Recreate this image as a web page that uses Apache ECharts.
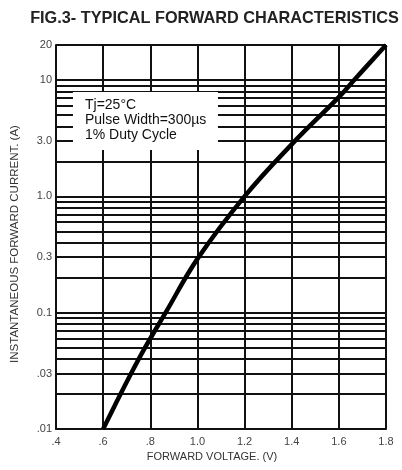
<!DOCTYPE html>
<html>
<head>
<meta charset="utf-8">
<script src="https://cdn.jsdelivr.net/npm/echarts@6/dist/echarts.min.js"></script>
<style>html,body{margin:0;padding:0;background:#fff}#c{width:402px;height:470px}</style>
</head>
<body>
<div id="c"></div>
<script>
// Curve: forward voltage (V) vs instantaneous forward current (A)
const voltage = [0.60, 0.65, 0.707, 0.77, 0.865, 1.0, 1.2, 1.40, 1.605, 1.665, 1.8];
const current = [0.01, 0.016, 0.027, 0.047, 0.1, 0.29, 1.0, 2.8, 7.3, 10, 20];

// Horizontal grid lines (log paper)
const gridValues = [0.01,0.02,0.03,0.04,0.05,0.06,0.07,0.08,0.09,
                    0.1,0.2,0.3,0.4,0.5,0.6,0.7,0.8,0.9,
                    1,2,3,4,5,6,7,8,9,10,20];
const yTickValues = [0.01, 0.03, 0.1, 0.3, 1, 3, 10, 20];
const yTickLabels = ['.01', '.03', '0.1', '0.3', '1.0', '3.0', '10', '20'];
const xTickValues = [0.4, 0.6, 0.8, 1.0, 1.2, 1.4, 1.6, 1.8];
const xTickLabels = ['.4', '.6', '.8', '1.0', '1.2', '1.4', '1.6', '1.8'];

// Note box extent (data space) and its text
const noteX = [0.472, 1.087];
const noteY = [2.5, 7.9];
const noteLines = ['Tj=25°C', 'Pulse Width=300µs', '1% Duty Cycle'];

const FONT = '"Liberation Sans", Arial, sans-serif';
const chart = echarts.init(document.getElementById('c'));

const curveData = voltage.map((v, i) => [v, current[i]]);
const markLineData = gridValues.map(v => {
  const k = yTickValues.indexOf(v);
  return {
    yAxis: v,
    label: k >= 0 ? { show: true, formatter: yTickLabels[k] } : { show: false }
  };
});

chart.setOption({
  animation: false,
  title: {
    text: 'FIG.3- TYPICAL FORWARD CHARACTERISTICS',
    left: 209.5, top: 6, textAlign: 'center',
    textStyle: { fontFamily: FONT, fontSize: 16.3, fontWeight: 'bold', color: '#222' }
  },
  grid: { left: 56, right: 16, top: 45, bottom: 41 },
  xAxis: {
    type: 'value', min: 0.4, max: 1.8, interval: 0.2,
    name: 'FORWARD VOLTAGE. (V)', nameLocation: 'middle', nameGap: 22,
    nameTextStyle: { fontFamily: FONT, fontSize: 11, color: '#333', padding: [0, 18, 0, 0] },
    axisLine: { show: true, lineStyle: { color: '#111', width: 2 } },
    axisTick: { show: false },
    axisLabel: {
      fontFamily: FONT, fontSize: 11, color: '#444', margin: 7,
      formatter: v => {
        const k = xTickValues.findIndex(t => Math.abs(t - v) < 1e-6);
        return k >= 0 ? xTickLabels[k] : '';
      }
    },
    splitLine: { show: true, lineStyle: { color: '#111', width: 2 } }
  },
  yAxis: {
    type: 'log', logBase: 10, min: 0.01, max: 20,
    name: 'INSTANTANEOUS FORWARD CURRENT. (A)', nameLocation: 'middle', nameGap: 35,
    nameTextStyle: { fontFamily: FONT, fontSize: 11.5, color: '#333', padding: [0, 14, 0, 0] },
    axisLine: { show: true, lineStyle: { color: '#111', width: 2 } },
    axisTick: { show: false },
    axisLabel: { show: false },
    splitLine: { show: false }
  },
  series: [
    {
      type: 'line', name: 'IF', data: curveData, z: 10,
      smooth: 0.4, symbol: 'none',
      lineStyle: { color: '#000', width: 4.5 },
      markLine: {
        silent: true, symbol: 'none', animation: false, precision: 4,
        lineStyle: { color: '#111', width: 2, type: 'solid' },
        label: {
          position: 'start', distance: 4,
          fontFamily: FONT, fontSize: 11, color: '#444'
        },
        emphasis: { disabled: true },
        data: markLineData
      }
    }
  ]
});

// White note box drawn over the grid, placed through the chart's own scales
const p1 = chart.convertToPixel({ gridIndex: 0 }, [noteX[0], noteY[1]]);
const p2 = chart.convertToPixel({ gridIndex: 0 }, [noteX[1], noteY[0]]);
chart.setOption({
  graphic: [
    {
      type: 'rect', z: 100, silent: true,
      shape: { x: p1[0], y: p1[1], width: p2[0] - p1[0], height: p2[1] - p1[1] },
      style: { fill: '#fff' }
    },
    {
      type: 'text', z: 101, silent: true,
      x: p1[0] + 12, y: p1[1] + 6,
      style: {
        text: noteLines.join('\n'),
        font: '14px ' + FONT, lineHeight: 15, fill: '#111'
      }
    }
  ]
});
</script>
</body>
</html>
